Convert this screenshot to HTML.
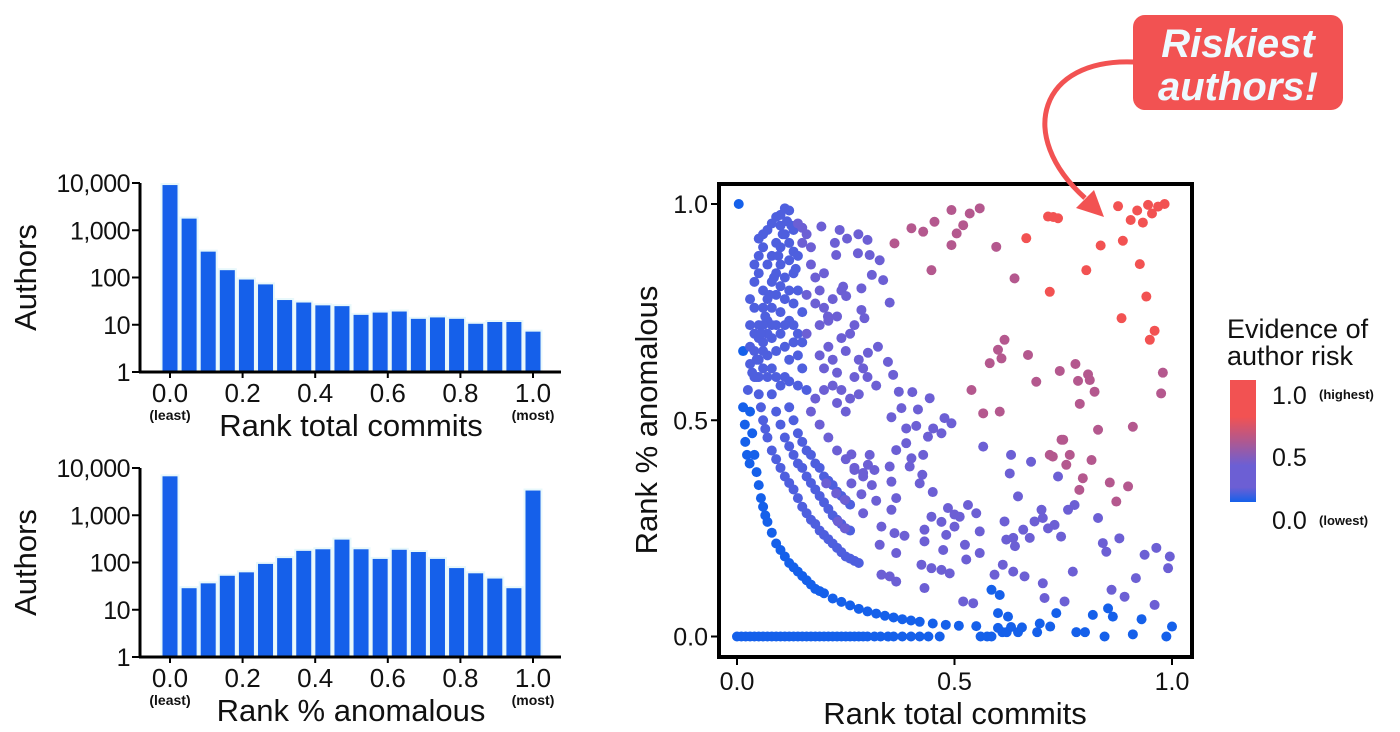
<!DOCTYPE html>
<html><head><meta charset="utf-8"><style>
html,body{margin:0;padding:0;background:#fff;}
svg{display:block;font-family:"Liberation Sans",Arial,sans-serif;}
</style></head><body>
<svg id="fig" width="1400" height="732" viewBox="0 0 1400 732" xmlns="http://www.w3.org/2000/svg">
<g id="h1"></g>
<g id="h2"></g>
<g id="sc"></g>
<g>
<defs><linearGradient id="cb" x1="0" y1="0" x2="0" y2="1">
<stop offset="0" stop-color="#f25252"/><stop offset="0.3" stop-color="#f25252"/><stop offset="0.5" stop-color="#b0588f"/><stop offset="0.7" stop-color="#6c5fd4"/><stop offset="0.88" stop-color="#6c5fd4"/><stop offset="1" stop-color="#1560ea"/></linearGradient></defs>
<text x="1227" y="338" font-size="27" fill="#111">Evidence of</text>
<text x="1227" y="365" font-size="27" fill="#111">author risk</text>
<rect x="1230" y="380" width="26" height="122" fill="url(#cb)"/>
<text x="1272" y="404" font-size="25" fill="#111">1.0</text>
<text x="1319" y="399" font-size="13" font-weight="bold" fill="#111">(highest)</text>
<text x="1272" y="466" font-size="25" fill="#111">0.5</text>
<text x="1272" y="529" font-size="25" fill="#111">0.0</text>
<text x="1319" y="525" font-size="13" font-weight="bold" fill="#111">(lowest)</text>
</g>
<g>
<path d="M1134,62 C1040,58 1015,135 1085,198" fill="none" stroke="#f25252" stroke-width="5"/>
<polygon points="1104,217 1076,208 1094,190" fill="#f25252"/>
<rect x="1133" y="15" width="210" height="95" rx="12" fill="#f25252"/>
<text x="1238" y="57" font-size="40" font-weight="bold" font-style="italic" fill="#eefaff" text-anchor="middle">Riskiest</text>
<text x="1238" y="100" font-size="40" font-weight="bold" font-style="italic" fill="#eefaff" text-anchor="middle">authors!</text>
</g>
</svg>
<script>
const NS="http://www.w3.org/2000/svg";
const binCenters=[0,1,2,3,4,5,6,7,8,9,10,11,12,13,14,15,16,17,18,19];
const commitsCounts=[9500,1850,370,150,95,75,35,31,27,26,17,19,20,14,15,14,11,12,12,7.5];
const anomalousCounts=[7000,30,38,55,65,98,130,185,200,320,200,125,195,175,125,80,62,48,30,3500];
const histYTicks=[1,10,100,1000,10000];
const histYTickLabels=["1","10","100","1,000","10,000"];
const histXTicks=[0,0.2,0.4,0.6,0.8,1.0];
const histXTickLabels=["0.0","0.2","0.4","0.6","0.8","1.0"];

const bluePts=[[0.004,1.0],[0,0],[0.01,0],[0.02,0],[0.03,0],[0.04,0],[0.05,0],[0.06,0],[0.07,0],[0.08,0],[0.09,0],[0.1,0],[0.11,0],[0.12,0],[0.13,0],[0.14,0],[0.15,0],[0.16,0],[0.17,0],[0.18,0],[0.19,0],[0.2,0],[0.21,0],[0.22,0],[0.23,0],[0.24,0],[0.25,0],[0.26,0],[0.27,0],[0.28,0],[0.29,0],[0.3,0],[0.316,0],[0.33,0],[0.347,0],[0.36,0],[0.38,0],[0.4,0],[0.42,0],[0.44,0],[0.466,0],[0.56,0],[0.575,0],[0.585,0],[0.61,0.01],[0.62,0.01],[0.646,0.01],[0.69,0.01],[0.78,0.01],[0.8,0.01],[0.845,0],[0.91,0.005],[0.987,0],
[0.014,0.66],[0.014,0.53],[0.018,0.49],[0.019,0.45],[0.023,0.42],[0.029,0.4],
[0.03,0.52],[0.035,0.47],[0.04,0.42],[0.045,0.38],[0.05,0.35],[0.055,0.32],[0.06,0.3],[0.065,0.28],[0.07,0.265],[0.08,0.24],[0.09,0.215],[0.1,0.2],[0.11,0.185],[0.12,0.17],[0.13,0.16],[0.14,0.15],[0.15,0.14],[0.16,0.13],[0.17,0.12],[0.18,0.11],[0.19,0.105],[0.2,0.1],[0.22,0.088],[0.24,0.08],[0.26,0.072],[0.28,0.064],[0.3,0.058],[0.32,0.053],[0.34,0.048],[0.36,0.044],[0.38,0.04],[0.4,0.037],[0.42,0.034],[0.45,0.03],[0.48,0.027],[0.51,0.025],[0.55,0.024],[0.6,0.02],[0.63,0.022],[0.655,0.021],
[0.6,0.054],[0.623,0.046],[0.734,0.054],[0.818,0.05],[0.853,0.065],[0.864,0.046],[0.93,0.04],[1.0,0.023],[0.72,0.023],[0.696,0.03],[0.585,0.108],[0.604,0.096]];

const midPts=[[0.045,0.6],[0.05,0.56],[0.055,0.53],[0.06,0.5],[0.065,0.48],[0.07,0.46],[0.08,0.43],[0.09,0.41],[0.1,0.39],[0.11,0.37],[0.12,0.355],[0.13,0.34],[0.14,0.32],[0.15,0.3],[0.16,0.285],[0.17,0.27],[0.18,0.26],[0.19,0.245],[0.2,0.235],[0.21,0.225],[0.22,0.215],[0.23,0.205],[0.24,0.195],[0.25,0.185],[0.26,0.18],[0.27,0.175],[0.28,0.17],
[0.08,0.56],[0.09,0.52],[0.1,0.49],[0.11,0.46],[0.12,0.44],[0.13,0.42],[0.14,0.4],[0.15,0.39],[0.16,0.37],[0.17,0.355],[0.18,0.34],[0.19,0.325],[0.2,0.31],[0.21,0.295],[0.22,0.28],[0.23,0.27],[0.24,0.26],[0.25,0.25],[0.26,0.245],
[0.12,0.53],[0.13,0.5],[0.14,0.47],[0.15,0.45],[0.16,0.43],[0.17,0.42],[0.18,0.4],[0.19,0.39],[0.2,0.37],[0.21,0.36],[0.22,0.35],[0.23,0.335],[0.24,0.325],[0.25,0.315],[0.26,0.305],
[0.09,0.97],[0.1,0.975],[0.11,0.99],[0.12,0.985],[0.1,0.95],[0.08,0.955],[0.07,0.94],[0.06,0.93],[0.13,0.94],[0.06,0.9],[0.05,0.88],[0.07,0.86],[0.05,0.84],[0.04,0.82],[0.06,0.8],[0.08,0.82],[0.1,0.86],[0.11,0.83],[0.12,0.87],[0.13,0.84],[0.14,0.8],[0.15,0.75],[0.13,0.77],[0.12,0.73],[0.1,0.75],[0.09,0.79],[0.08,0.76],[0.07,0.73],[0.06,0.76],[0.05,0.72],[0.04,0.76],[0.04,0.7],[0.03,0.67],[0.03,0.63],[0.04,0.6],[0.05,0.64],[0.06,0.68],[0.07,0.65],[0.08,0.69],[0.09,0.66],[0.1,0.7],[0.11,0.67],[0.12,0.64],[0.13,0.68],[0.14,0.65],[0.15,0.62],[0.05,0.6],[0.06,0.62],[0.07,0.6],[0.08,0.62],[0.09,0.6],[0.1,0.58],[0.11,0.6],[0.04,0.66],[0.05,0.69],[0.06,0.72],[0.07,0.78],[0.08,0.88],[0.09,0.91],[0.1,0.9],[0.11,0.93],[0.12,0.91],[0.13,0.89],[0.14,0.88],[0.09,0.84],[0.1,0.81],[0.11,0.78],[0.12,0.8],[0.13,0.72],[0.14,0.7],[0.15,0.68],[0.11,0.72],[0.09,0.72],[0.08,0.72],[0.07,0.7],[0.06,0.66],[0.03,0.72],[0.03,0.78],[0.04,0.86],[0.05,0.92],[0.12,0.59],[0.14,0.58],[0.16,0.57],[0.025,0.57],[0.035,0.61],[0.045,0.64],[0.055,0.7],[0.065,0.74],[0.075,0.79],[0.085,0.83],[0.095,0.88],[0.105,0.93],[0.115,0.96],[0.125,0.95],[0.135,0.85]];

const purplePts=[[0.14,0.955],[0.15,0.945],[0.16,0.93],[0.17,0.9],[0.15,0.91],[0.16,0.79],[0.18,0.83],[0.2,0.84],[0.17,0.86],[0.19,0.8],[0.18,0.77],[0.2,0.76],[0.22,0.78],[0.24,0.8],[0.21,0.73],[0.23,0.74],[0.19,0.72],[0.16,0.7],[0.19,0.65],[0.2,0.62],[0.21,0.67],[0.22,0.64],[0.23,0.61],[0.24,0.69],[0.26,0.7],[0.27,0.72],[0.25,0.66],[0.28,0.64],[0.27,0.6],[0.29,0.62],[0.24,0.57],[0.22,0.58],[0.26,0.55],[0.2,0.57],[0.18,0.55],[0.3,0.6],[0.32,0.58],[0.28,0.56],[0.25,0.52],[0.23,0.54],
[0.17,0.52],[0.19,0.49],[0.21,0.46],[0.23,0.43],[0.25,0.41],[0.27,0.39],[0.29,0.37],[0.31,0.35],
[0.194,0.948],[0.236,0.94],[0.279,0.93],[0.3,0.917],[0.253,0.92],[0.225,0.91],[0.228,0.882],[0.278,0.886],[0.305,0.882],[0.328,0.87],[0.31,0.836],[0.336,0.824],[0.286,0.805],[0.244,0.809],[0.251,0.787],[0.351,0.772],[0.286,0.755],[0.293,0.736],[0.209,0.74],[0.324,0.67],[0.301,0.656],[0.347,0.635],[0.359,0.605],[0.372,0.566],[0.403,0.565],[0.443,0.551],[0.378,0.528],[0.416,0.525],[0.355,0.507],[0.477,0.505],[0.493,0.493],[0.389,0.481],[0.412,0.487],[0.451,0.481],[0.47,0.47],[0.439,0.462],[0.389,0.447],[0.366,0.431],[0.401,0.412],[0.428,0.42],[0.397,0.393],[0.426,0.374],[0.42,0.354],[0.45,0.334],[0.351,0.393],[0.355,0.358],[0.366,0.32],[0.32,0.314],[0.355,0.293],[0.305,0.42],[0.301,0.397],[0.316,0.385],[0.263,0.421],[0.27,0.385],[0.29,0.378],[0.263,0.354],[0.286,0.329],[0.29,0.285],[0.205,0.354],[0.228,0.331],[0.248,0.316],[0.232,0.266],[0.248,0.25],[0.332,0.254],[0.362,0.239],[0.385,0.233],[0.328,0.212],[0.366,0.193],[0.431,0.247],[0.431,0.22],[0.447,0.277],[0.47,0.265],[0.485,0.297],[0.5,0.282],[0.512,0.277],[0.531,0.304],[0.55,0.285],[0.5,0.254],[0.481,0.235],[0.524,0.212],[0.558,0.243],[0.474,0.2],[0.558,0.193],[0.527,0.178],[0.424,0.166],[0.447,0.158],[0.47,0.154],[0.489,0.146],[0.332,0.143],[0.351,0.139],[0.366,0.127],[0.431,0.112],[0.52,0.081],[0.543,0.077],[0.592,0.143],[0.611,0.166],[0.635,0.15],[0.661,0.139],[0.615,0.266],[0.619,0.224],[0.635,0.228],[0.639,0.209],[0.646,0.324],[0.658,0.247],[0.673,0.228],[0.684,0.266],[0.7,0.293],[0.703,0.274],[0.715,0.25],[0.73,0.258],[0.745,0.231],[0.703,0.123],[0.707,0.089],[0.753,0.081],[0.772,0.15],[0.761,0.293],[0.776,0.304],[0.83,0.274],[0.841,0.216],[0.849,0.196],[0.879,0.227],[0.917,0.135],[0.937,0.189],[0.964,0.205],[0.995,0.185],[0.991,0.158],[0.861,0.108],[0.891,0.092],[0.96,0.073],[0.738,0.37],[0.63,0.42],[0.676,0.404],[0.627,0.377],[0.566,0.439]];

const mixPts=[[0.493,0.986],[0.535,0.978],[0.558,0.99],[0.52,0.951],[0.505,0.932],[0.493,0.905],[0.454,0.959],[0.401,0.944],[0.428,0.936],[0.362,0.909],[0.447,0.847],[0.596,0.901],[0.638,0.828],[0.615,0.686],[0.6,0.663],[0.608,0.643],[0.581,0.632],[0.669,0.651],[0.688,0.589],[0.742,0.614],[0.778,0.63],[0.784,0.591],[0.807,0.606],[0.811,0.593],[0.822,0.566],[0.788,0.538],[0.83,0.478],[0.91,0.485],[0.75,0.455],[0.815,0.408],[0.765,0.42],[0.757,0.397],[0.787,0.339],[0.795,0.366],[0.872,0.312],[0.857,0.356],[0.899,0.347],[0.975,0.562],[0.979,0.61],[0.539,0.57],[0.566,0.516],[0.604,0.52],[0.719,0.42],[0.746,0.455],[0.726,0.416]];

const redPts=[[0.876,0.995],[0.905,0.963],[0.92,0.985],[0.933,0.957],[0.945,0.998],[0.954,0.978],[0.968,0.994],[0.983,1.0],[0.887,0.915],[0.836,0.904],[0.926,0.861],[0.803,0.847],[0.941,0.786],[0.884,0.736],[0.96,0.707],[0.949,0.686],[0.665,0.921],[0.715,0.971],[0.738,0.967],[0.727,0.97],[0.719,0.797]];

const scTicks=[0,0.5,1];
const scTickLabels=["0.0","0.5","1.0"];

function mk(tag,attrs,parent,text){const e=document.createElementNS(NS,tag);for(const k in attrs)e.setAttribute(k,attrs[k]);if(text!==undefined)e.textContent=text;parent.appendChild(e);return e;}

function histogram(gid,counts,top,bottom,title){
  const g=document.getElementById(gid);
  const x0=170,x1=533,axL=140,axR=561;
  const xs=i=>x0+(x1-x0)*i/19;
  const ys=v=>bottom-(bottom-top)*Math.log10(v)/4;
  binCenters.forEach(i=>{
    const v=counts[i];const y=ys(v);
    const r=mk('rect',{x:xs(i)-8.5,y:y,width:17,height:bottom-y,fill:'#1560ea',stroke:'#e8f8fb','stroke-width':2},g);
    
    
  });
  const ya=mk('line',{x1:axL,y1:top,x2:axL,y2:bottom,stroke:'#000','stroke-width':3},g);
  
  const xa=mk('line',{x1:axL-1,y1:bottom,x2:axR,y2:bottom,stroke:'#000','stroke-width':3},g);
  
  histYTicks.forEach((t,k)=>{
    const y=ys(t);
    mk('line',{x1:axL-8,y1:y,x2:axL,y2:y,stroke:'#000','stroke-width':2},g);
    const tx=mk('text',{x:axL-10,y:y+9,'font-size':25,'text-anchor':'end',fill:'#111','letter-spacing':'-0.5'},g,histYTickLabels[k]);
    
  });
  histXTicks.forEach((t,k)=>{
    const x=x0+(x1-x0)*t;
    mk('line',{x1:x,y1:bottom,x2:x,y2:bottom+6,stroke:'#000','stroke-width':2},g);
    const tx=mk('text',{x:x,y:bottom+30,'font-size':26,'text-anchor':'middle',fill:'#111'},g,histXTickLabels[k]);
    
  });
  const l=mk('text',{x:x0,y:bottom+48,'font-size':14,'font-weight':'bold','text-anchor':'middle',fill:'#111'},g,'(least)');
  
  const m=mk('text',{x:x1,y:bottom+48,'font-size':14,'font-weight':'bold','text-anchor':'middle',fill:'#111'},g,'(most)');
  
  const t=mk('text',{x:351,y:bottom+64,'font-size':31,'text-anchor':'middle',fill:'#111'},g,title);
  
  const cy=(top+bottom)/2;
  const a=mk('text',{x:0,y:0,'font-size':31,'text-anchor':'middle',fill:'#111',transform:'translate(36,'+cy+') rotate(-90)'},g,'Authors');
  
}
histogram('h1',commitsCounts,183,372,'Rank total commits');
histogram('h2',anomalousCounts,468,657,'Rank % anomalous');

(function(){
  const g=document.getElementById('sc');
  const sx=v=>737+435*v, sy=v=>636.5-432.5*v;
  const f=mk('rect',{x:719,y:184,width:473,height:473,fill:'none',stroke:'#000','stroke-width':4},g);
  
  scTicks.forEach((t,k)=>{
    mk('line',{x1:711,y1:sy(t),x2:717,y2:sy(t),stroke:'#000','stroke-width':2},g);
    const a=mk('text',{x:708,y:sy(t)+9,'font-size':25,'text-anchor':'end',fill:'#111'},g,scTickLabels[k]);
    
    mk('line',{x1:sx(t),y1:659,x2:sx(t),y2:665,stroke:'#000','stroke-width':2},g);
    const b=mk('text',{x:sx(t),y:690,'font-size':25,'text-anchor':'middle',fill:'#111'},g,scTickLabels[k]);
    
  });
  const xt=mk('text',{x:955,y:724,'font-size':31,'text-anchor':'middle',fill:'#111'},g,'Rank total commits');
  
  const yt=mk('text',{x:0,y:0,'font-size':31,'text-anchor':'middle',fill:'#111',transform:'translate(657,420) rotate(-90)'},g,'Rank % anomalous');
  
  const series=[[bluePts,'#1560ea','low'],[midPts,'#4e5fde','lowmid'],[purplePts,'#6c5fd4','mid'],[mixPts,'#b4588e','midhigh'],[redPts,'#f25252','high']];
  series.forEach(s=>{
    const sg=mk('g',{},g);
    
    
    s[0].forEach(p=>{
      const c=mk('circle',{cx:sx(p[0]),cy:sy(p[1]),r:5,fill:s[1]},sg);
      
      
    });
  });
})();
</script>
</body></html>
